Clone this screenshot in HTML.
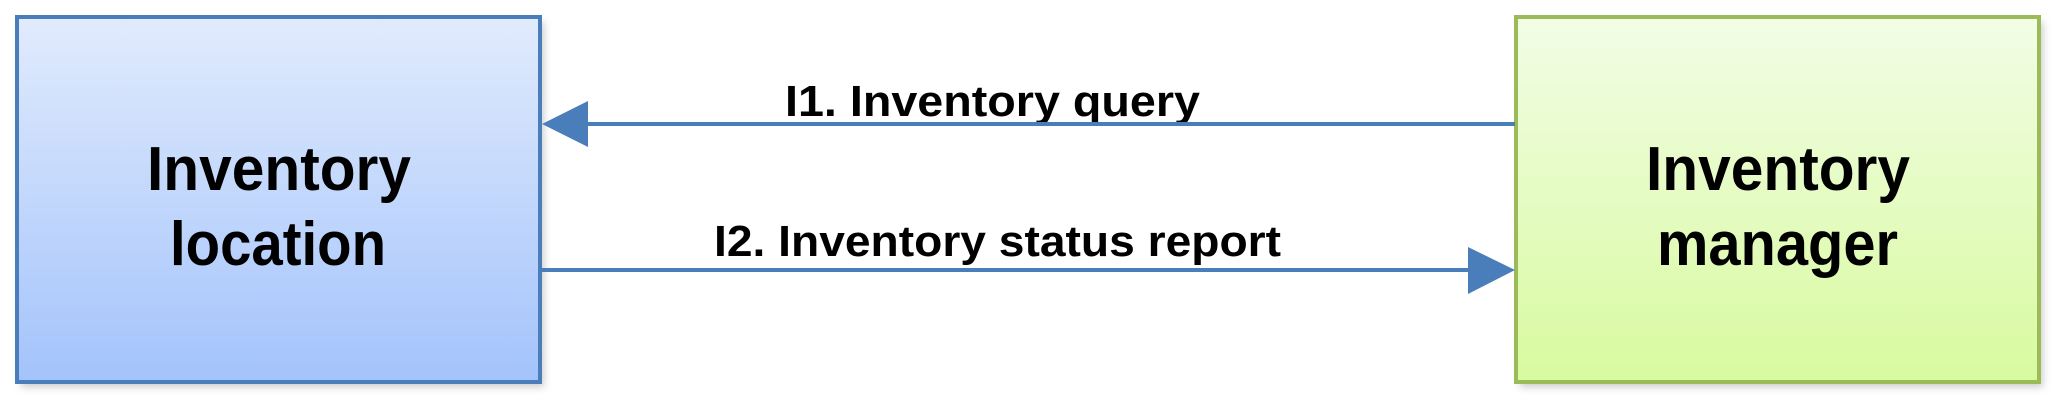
<!DOCTYPE html>
<html><head><meta charset="utf-8"><style>html,body{margin:0;padding:0;background:#fff;}svg{display:block;}</style></head>
<body>
<svg width="2060" height="400" viewBox="0 0 2060 400" xmlns="http://www.w3.org/2000/svg">
<defs>
<linearGradient id="gb" x1="0" y1="0" x2="0" y2="1"><stop offset="0" stop-color="#e1ebfd"/><stop offset="1" stop-color="#a3c3fb"/></linearGradient>
<linearGradient id="gg" x1="0" y1="0" x2="0" y2="1"><stop offset="0" stop-color="#f2fde6"/><stop offset="1" stop-color="#d8fa9f"/></linearGradient>
<filter id="sh" x="-5%" y="-5%" width="115%" height="115%"><feGaussianBlur stdDeviation="4"/></filter>
</defs>
<rect x="21" y="22" width="523" height="365" fill="#999" opacity="0.5" filter="url(#sh)"/>
<rect x="1520" y="22" width="523" height="365" fill="#999" opacity="0.5" filter="url(#sh)"/>
<rect x="17" y="17" width="523" height="365" fill="url(#gb)" stroke="#4a7ebb" stroke-width="4"/>
<rect x="1516" y="17" width="523" height="365" fill="url(#gg)" stroke="#9bbb59" stroke-width="4"/>
<g font-family="Liberation Sans, sans-serif" font-weight="bold" fill="#000">
<text x="147" y="190" font-size="62" textLength="264" lengthAdjust="spacingAndGlyphs">Inventory</text>
<text x="170" y="265" font-size="62" textLength="216" lengthAdjust="spacingAndGlyphs">location</text>
<text x="1646" y="190" font-size="62" textLength="264" lengthAdjust="spacingAndGlyphs">Inventory</text>
<text x="1657" y="265" font-size="62" textLength="241" lengthAdjust="spacingAndGlyphs">manager</text>
<text x="785" y="116" font-size="44" textLength="415" lengthAdjust="spacingAndGlyphs">I1. Inventory query</text>
<text x="714" y="256" font-size="44" textLength="567" lengthAdjust="spacingAndGlyphs">I2. Inventory status report</text>
</g>
<line x1="585" y1="124" x2="1515" y2="124" stroke="#4a7ebb" stroke-width="4"/>
<polygon points="542,124 588,101 588,147" fill="#4a7ebb"/>
<line x1="540" y1="270" x2="1470" y2="270" stroke="#4a7ebb" stroke-width="4"/>
<polygon points="1515,270 1468,247 1468,294" fill="#4a7ebb"/>
</svg>
</body></html>
